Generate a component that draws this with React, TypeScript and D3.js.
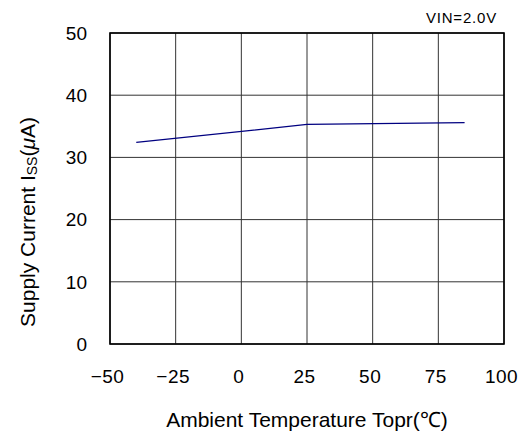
// D3.js — Supply current vs ambient temperature
import React from "react";
import * as d3 from "d3";

const temps = [-40, 25, 85];
const currents = [32.4, 35.3, 35.6];
const xTicks = [-50, -25, 0, 25, 50, 75, 100];
const yTicks = [0, 10, 20, 30, 40, 50];

const W = 520;
const H = 432;
const margin = { top: 33, right: 16, bottom: 88, left: 110 };
const font = "'Liberation Sans', Arial, sans-serif";

const App: React.FC = () => {
  const x = d3.scaleLinear().domain([-50, 100]).range([margin.left, W - margin.right]);
  const y = d3.scaleLinear().domain([0, 50]).range([H - margin.bottom, margin.top]);

  const line = d3.line<number>()
    .x((_, i) => x(temps[i]))
    .y(d => y(d));

  const fmt = (v: number) => (v < 0 ? `\u2212${Math.abs(v)}` : `${v}`);

  return (
    <svg width={W} height={H} style={{ position: "absolute", left: 0, top: 0, background: "#fff" }}>
      {/* grid */}
      {xTicks.map(t => (
        <line key={"gx" + t} x1={x(t)} x2={x(t)} y1={y(0)} y2={y(50)} stroke="#333" strokeWidth={1} />
      ))}
      {yTicks.map(t => (
        <line key={"gy" + t} x1={x(-50)} x2={x(100)} y1={y(t)} y2={y(t)} stroke="#333" strokeWidth={1} />
      ))}
      {/* frame */}
      <rect x={x(-50)} y={y(50)} width={x(100) - x(-50)} height={y(0) - y(50)}
        fill="none" stroke="#000" strokeWidth={1.6} />

      {/* data */}
      <path d={line(currents) ?? ""} fill="none" stroke="#000080" strokeWidth={1.3} />

      {/* y tick labels */}
      {yTicks.map(t => (
        <text key={"ly" + t} x={87} y={y(t)} dy="0.36em" textAnchor="end"
          fontFamily={font} fontSize={19} fill="#000">{t}</text>
      ))}
      {/* x tick labels */}
      {xTicks.map(t => (
        <text key={"lx" + t} x={x(t) - 2.5} y={383} textAnchor="middle"
          fontFamily={font} fontSize={19} letterSpacing={0.5} fill="#000">{fmt(t)}</text>
      ))}

      {/* x title */}
      <text x={(x(-50) + x(100)) / 2} y={427} textAnchor="middle" fontFamily={font} fontSize={21} fill="#000">
        Ambient Temperature Topr(℃)
      </text>

      {/* y title */}
      <text transform="translate(35,222) rotate(-90)" textAnchor="middle" fontFamily={font} fontSize={21} fill="#000">
        Supply Current I<tspan fontSize={14} dy={2}>SS</tspan>
        <tspan dy={-2}>(</tspan><tspan fontStyle="italic">μ</tspan>A)
      </text>

      {/* condition */}
      <text x={497} y={23} textAnchor="end" fontFamily={font} fontSize={15} letterSpacing={0.8} fill="#000">
        VIN=2.0V
      </text>
    </svg>
  );
};

export default App;
